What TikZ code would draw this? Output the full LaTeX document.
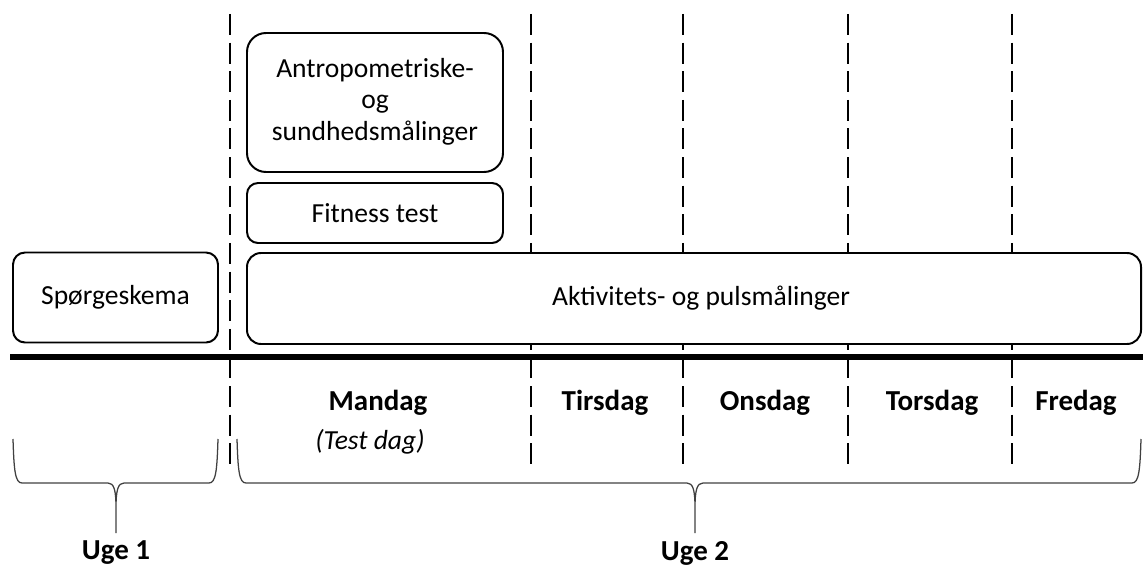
\documentclass[tikz,border=0pt]{standalone}
\usepackage{fontspec}
\setmainfont{Carlito}
\usepackage{tikz}

\begin{document}
\begin{tikzpicture}[x=0.025cm, y=-0.025cm]

    % Define sizes (one unit = one pixel of the sketch)
    \def\px{0.025cm}
    \def\ytop{14}    % top of the day lines
    \def\ybot{464}   % bottom of the day lines
    \def\yaxis{357}  % thick time axis
    \def\braceTop{439}
    \def\braceMid{483}
    \def\braceTip{533}

    \tikzset{
        box/.style={draw=black, fill=white, line width=1.4pt, inner sep=0pt, align=center,
            font=\fontsize{19.6}{22.3}\selectfont},
        daylabel/.style={font=\fontsize{20.6}{24}\selectfont\bfseries, inner sep=0pt},
        weeklabel/.style={font=\fontsize{20.6}{24}\selectfont\bfseries, inner sep=0pt},
        dayline/.style={black, line width=1.8pt, dash pattern=on 14.9pt off 5.45pt},
        bracket/.style={black!75, line width=0.9pt}
    }

    \useasboundingbox (0,0) rectangle (1143,565);

    % --- Day separators (dashed) ---
    \foreach \x in {230,531,683,848,1012} {
        \draw[dayline] (\x,\ytop) -- (\x,\ybot); % dashed line
    }

    % --- Boxes ---
    \node[box, rounded corners=12*\px, minimum width=205*\px, minimum height=90*\px] (spoerg) at (115.5,297.5) {Spørgeskema};
    \node[box, rounded corners=19*\px, minimum width=256*\px, minimum height=139*\px] (antro) at (375,102.5) {\raisebox{-3pt}{\begin{tabular}{@{}c@{}}Antropometriske-\\og\\sundhedsmålinger\end{tabular}}};
    \node[box, rounded corners=11*\px, minimum width=256*\px, minimum height=60*\px] (fitness) at (375,213) {Fitness test};
    \node[box, rounded corners=14*\px, minimum width=894*\px, minimum height=91*\px] (aktiv) at (694,298.5) {\hspace{10pt}Aktivitets- og pulsmålinger};

    % --- Time axis ---
    \draw[black, line width=4.3pt] (10,\yaxis) -- (1143,\yaxis);

    % --- Day names ---
    \foreach \name/\x in {Mandag/378,Tirsdag/605,Onsdag/765,Torsdag/932,Fredag/1076} {
        \node[daylabel] (\name) at (\x,403) {\name};
    }
    \node[font=\fontsize{19.6}{21.5}\selectfont\itshape, inner sep=0pt] (testdag) at (370,442) {(Test dag)};

    % --- Week brackets ---
    \foreach \a/\m/\b/\w in {13/116/218/1,237/695/1141/2} {
        \draw[bracket] (\a,\braceTop) .. controls (\a+1,470) and (\a+2,\braceMid) .. (\a+9,\braceMid)
            -- (\m-8,\braceMid) .. controls (\m-2,\braceMid) and (\m,490) .. (\m,508)
            -- (\m,\braceTip) coordinate (tip\w)
            -- (\m,508) .. controls (\m,490) and (\m+2,\braceMid) .. (\m+8,\braceMid)
            -- (\b-9,\braceMid) .. controls (\b-2,\braceMid) and (\b-1,470) .. (\b,\braceTop);
        \node[weeklabel] (uge\w) at (\m,553) {Uge \w};
    }

\end{tikzpicture}
\end{document}
